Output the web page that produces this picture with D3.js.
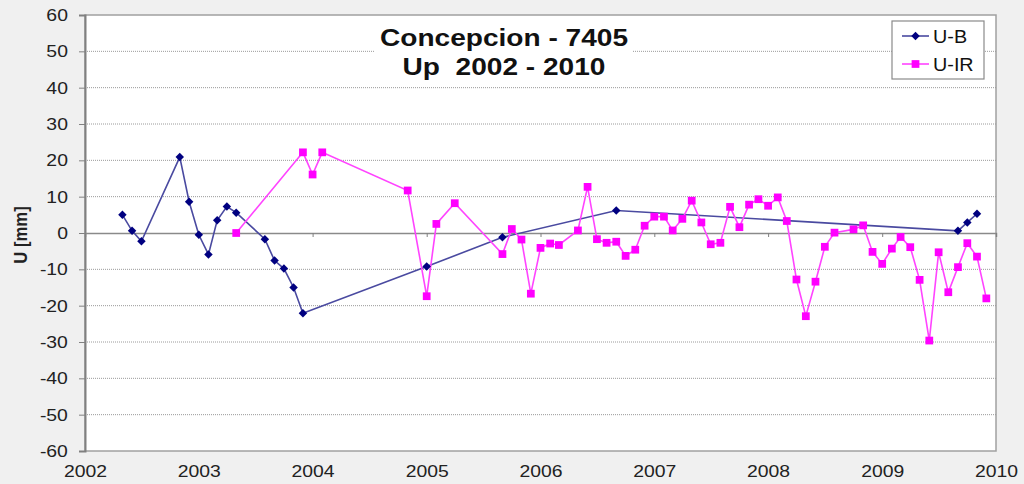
<!DOCTYPE html>
<html>
<head>
<meta charset="utf-8">
<script src="https://cdn.jsdelivr.net/npm/d3@7"></script>
<style>
    body { margin: 0; background: #f0f0f0; }
    svg { display: block; font-family: "Liberation Sans", Arial, sans-serif; }
</style>
</head>
<body>
<svg id="chart" width="1024" height="484"></svg>
<script>
// U-B series (month, value in mm)
const ubDates = ['2002-05', '2002-06', '2002-07', '2002-11', '2002-12', '2003-01', '2003-02', '2003-03',
    '2003-04', '2003-05', '2003-08', '2003-09', '2003-10', '2003-11', '2003-12', '2005-01', '2005-09',
    '2006-09', '2009-09', '2009-10', '2009-11'];
const ubValues = [5.0, 0.6, -2.3, 20.9, 8.6, -0.5, -5.9, 3.5,
    7.3, 5.6, -1.7, -7.6, -9.8, -15.0, -22.1, -9.2, -1.2,
    6.2, 0.6, 2.9, 5.3];

// U-IR series
const irDates = ['2003-05', '2003-12', '2004-01', '2004-02', '2004-11', '2005-01', '2005-02', '2005-04',
    '2005-09', '2005-10', '2005-11', '2005-12', '2006-01', '2006-02', '2006-03', '2006-05', '2006-06',
    '2006-07', '2006-08', '2006-09', '2006-10', '2006-11', '2006-12', '2007-01', '2007-02', '2007-03',
    '2007-04', '2007-05', '2007-06', '2007-07', '2007-08', '2007-09', '2007-10', '2007-11', '2007-12',
    '2008-01', '2008-02', '2008-03', '2008-04', '2008-05', '2008-06', '2008-07', '2008-08', '2008-10',
    '2008-11', '2008-12', '2009-01', '2009-02', '2009-03', '2009-04', '2009-05', '2009-06', '2009-07',
    '2009-08', '2009-09', '2009-10', '2009-11', '2009-12'];
const irValues = [0.0, 22.2, 16.1, 22.2, 11.7, -17.4, 2.5, 8.2,
    -5.8, 1.1, -1.8, -16.7, -4.1, -2.9, -3.3, 0.7, 12.7,
    -1.7, -2.7, -2.4, -6.3, -4.6, 2.0, 4.5, 4.5, 0.7,
    3.9, 8.9, 2.9, -3.1, -2.7, 7.2, 1.6, 7.8, 9.3,
    7.5, 9.8, 3.3, -12.8, -22.9, -13.4, -3.8, 0.1, 1.0,
    2.1, -5.2, -8.5, -4.3, -1.1, -3.9, -12.9, -29.6, -5.3,
    -16.3, -9.4, -2.8, -6.5, -18.0];

const yTicks = [-60, -50, -40, -30, -20, -10, 0, 10, 20, 30, 40, 50, 60];
const xYears = [2002, 2003, 2004, 2005, 2006, 2007, 2008, 2009, 2010];

const titleLines = ['Concepcion - 7405', 'Up  2002 - 2010'];
const seriesNames = ['U-B', 'U-IR'];

const plotLeft = 85, plotRight = 996, plotTop = 15, plotBottom = 451;
// the original picture is a bit wider than tall, text included
const stretch = 1.14;

const parseMonth = d3.timeParse('%Y-%m');
const ub = ubDates.map((d, i) => ({ date: parseMonth(d), value: ubValues[i] }));
const ir = irDates.map((d, i) => ({ date: parseMonth(d), value: irValues[i] }));

const x = d3.scaleTime()
    .domain([new Date(xYears[0], 0, 1), new Date(xYears[xYears.length - 1], 0, 1)])
    .range([plotLeft, plotRight]);
const y = d3.scaleLinear()
    .domain([-60, 60])
    .range([plotBottom, plotTop]);

const svg = d3.select('#chart');

svg.append('rect')
    .attr('x', plotLeft)
    .attr('y', plotTop)
    .attr('width', plotRight - plotLeft)
    .attr('height', plotBottom - plotTop)
    .attr('fill', '#fff')
    .attr('stroke', '#a0a0a0')
    .attr('stroke-width', 1.5);

// dotted gridlines
svg.append('g')
    .selectAll('line')
    .data(yTicks.filter(d => d !== 0 && d !== -60 && d !== 60))
    .enter()
    .append('line')
    .attr('x1', plotLeft)
    .attr('x2', plotRight)
    .attr('y1', d => y(d))
    .attr('y2', d => y(d))
    .attr('stroke', '#9a9a9a')
    .attr('stroke-width', 1)
    .attr('stroke-dasharray', '1,1');

// y axis
const yAxis = svg.append('g')
    .attr('transform', `translate(${plotLeft},0)`)
    .call(d3.axisLeft(y)
        .tickValues(yTicks)
        .tickSize(6)
        .tickPadding(9)
        .tickFormat(d => String(d)));
yAxis.select('.domain').attr('stroke', '#808080').attr('stroke-width', 2);
yAxis.selectAll('.tick line').attr('stroke', '#808080');
yAxis.selectAll('.tick text')
    .attr('fill', '#222')
    .attr('transform', `scale(${stretch},1)`)
    .style('font-size', '17px')
    .style('font-family', '"Liberation Sans", Arial, sans-serif');

// x axis at zero (ticks only)
const xZero = svg.append('g')
    .attr('transform', `translate(0,${y(0)})`)
    .call(d3.axisBottom(x)
        .tickValues(xYears.map(yr => new Date(yr, 0, 1)))
        .tickSize(4)
        .tickFormat(''));
xZero.select('.domain').attr('stroke', '#8a8a8a').attr('stroke-width', 1.5);
xZero.selectAll('.tick line').attr('stroke', '#808080');

// x labels at the bottom
const xAxis = svg.append('g')
    .attr('transform', `translate(0,${plotBottom})`)
    .call(d3.axisBottom(x)
        .tickValues(xYears.map(yr => new Date(yr, 0, 1)))
        .tickSize(0)
        .tickPadding(14)
        .tickFormat(d3.timeFormat('%Y')));
xAxis.select('.domain').remove();
xAxis.selectAll('.tick text')
    .attr('fill', '#222')
    .attr('transform', `scale(${stretch},1)`)
    .style('font-size', '17px')
    .style('font-family', '"Liberation Sans", Arial, sans-serif');

// y axis title
svg.append('text')
    .attr('transform', `translate(27,235) rotate(-90) scale(${1 / stretch},1)`)
    .attr('text-anchor', 'middle')
    .style('font-size', '19px')
    .style('font-weight', 'bold')
    .attr('fill', '#222')
    .text('U [mm]');

const line = d3.line()
    .x(d => x(d.date))
    .y(d => y(d.value));

svg.append('path')
    .datum(ub)
    .attr('d', line)
    .attr('fill', 'none')
    .attr('stroke', '#4a4aa0')
    .attr('stroke-width', 1.6);

svg.append('path')
    .datum(ir)
    .attr('d', line)
    .attr('fill', 'none')
    .attr('stroke', '#ff44ff')
    .attr('stroke-width', 1.6);

const diamond = d3.symbol().type(d3.symbolSquare).size(36);
const square = d3.symbol().type(d3.symbolSquare).size(60);

svg.append('g')
    .selectAll('path')
    .data(ub)
    .enter()
    .append('path')
    .attr('d', diamond)
    .attr('transform', d => `translate(${x(d.date)},${y(d.value)}) rotate(45)`)
    .attr('fill', '#000080');

svg.append('g')
    .selectAll('path')
    .data(ir)
    .enter()
    .append('path')
    .attr('d', square)
    .attr('transform', d => `translate(${x(d.date)},${y(d.value)})`)
    .attr('fill', '#ff00ff');

// title
svg.append('rect')
    .attr('x', 375)
    .attr('y', 25)
    .attr('width', 258)
    .attr('height', 58)
    .attr('fill', '#fff');

svg.append('g')
    .selectAll('text')
    .data(titleLines)
    .enter()
    .append('text')
    .attr('transform', (d, i) => `translate(504,${46 + i * 29}) scale(${stretch + 0.03},1)`)
    .attr('text-anchor', 'middle')
    .style('font-size', '24px')
    .style('font-weight', 'bold')
    .style('white-space', 'pre')
    .attr('fill', '#111')
    .text(d => d);

// legend
const legend = svg.append('g');
legend.append('rect')
    .attr('x', 892)
    .attr('y', 21)
    .attr('width', 92)
    .attr('height', 58)
    .attr('fill', '#fff')
    .attr('stroke', '#8a8a8a')
    .attr('stroke-width', 1.2);

const legendItems = [
    { name: seriesNames[0], color: '#4a4aa0', mark: '#000080', sym: diamond, rot: 45 },
    { name: seriesNames[1], color: '#ff44ff', mark: '#ff00ff', sym: square, rot: 0 }
];

legendItems.forEach((item, i) => {
    let ly = 36 + i * 28;
    legend.append('line')
        .attr('x1', 902)
        .attr('x2', 929)
        .attr('y1', ly)
        .attr('y2', ly)
        .attr('stroke', item.color)
        .attr('stroke-width', 1.6);
    legend.append('path')
        .attr('d', item.sym)
        .attr('transform', `translate(915.5,${ly}) rotate(${item.rot})`)
        .attr('fill', item.mark);
    legend.append('text')
        .attr('transform', `translate(933,${ly + 6.5}) scale(1.1,1)`)
        .style('font-size', '18px')
        .attr('fill', '#111')
        .text(item.name);
});
</script>
</body>
</html>
